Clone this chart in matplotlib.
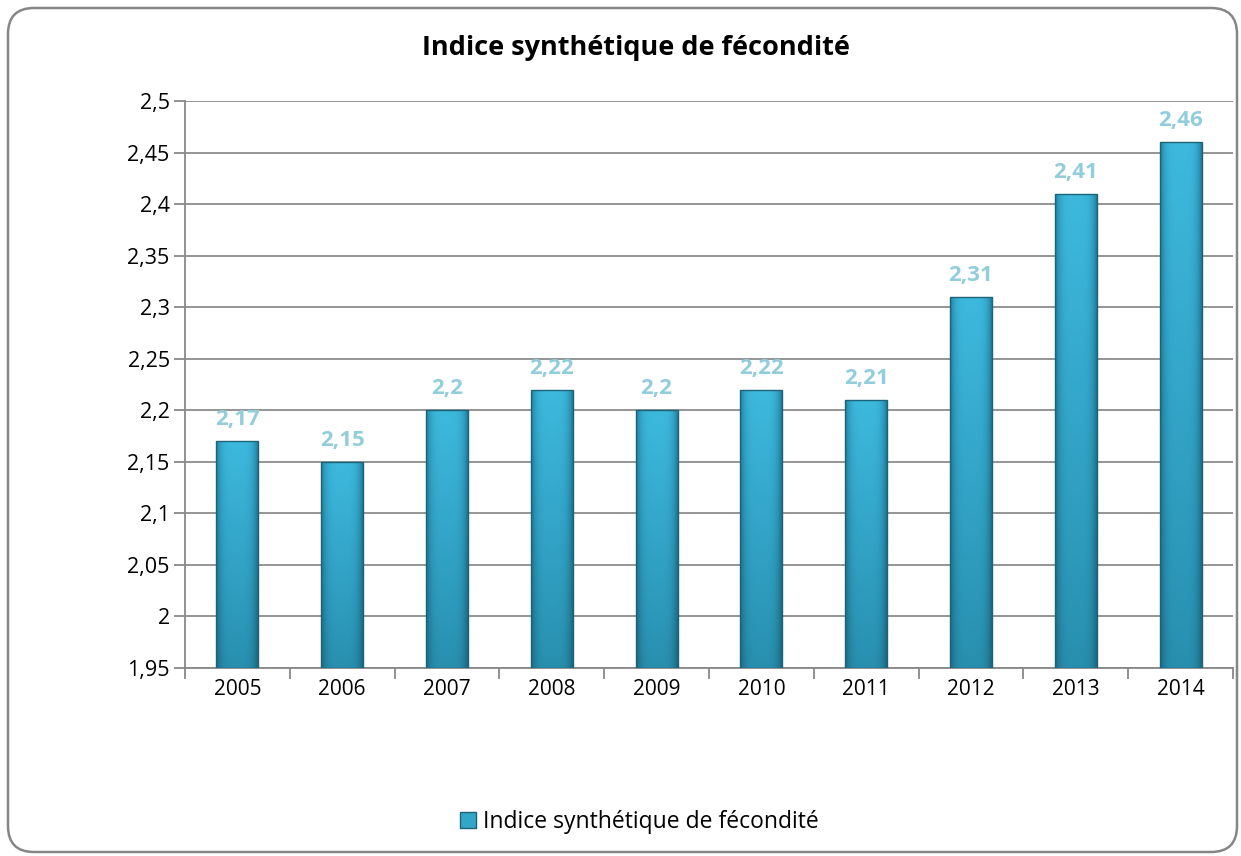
import matplotlib
matplotlib.use("Agg")
import matplotlib.pyplot as plt
import numpy as np
from matplotlib.patches import FancyBboxPatch, Patch
from matplotlib.colors import LinearSegmentedColormap

years = ["2005", "2006", "2007", "2008", "2009", "2010", "2011", "2012", "2013", "2014"]
isf = [2.17, 2.15, 2.20, 2.22, 2.20, 2.22, 2.21, 2.31, 2.41, 2.46]
value_labels = ["2,17", "2,15", "2,2", "2,22", "2,2", "2,22", "2,21", "2,31", "2,41", "2,46"]
yticks = [1.95, 2.0, 2.05, 2.1, 2.15, 2.2, 2.25, 2.3, 2.35, 2.4, 2.45, 2.5]
ytick_labels = ["1,95", "2", "2,05", "2,1", "2,15", "2,2", "2,25", "2,3", "2,35", "2,4", "2,45", "2,5"]
title = "Indice synthétique de fécondité"

plt.rcParams['font.family'] = ['Open Sans', 'DejaVu Sans']

fig = plt.figure(figsize=(12.41, 8.56), dpi=100)
ax = fig.add_axes([0.149, 0.2196, 0.8446, 0.6624])

x = np.arange(len(years))
bars = ax.bar(x, [v - 1.95 for v in isf], bottom=1.95, width=0.4,
              facecolor="none", edgecolor="#1D6378", linewidth=1.0, zorder=4)

# shaded fill for each bar (darker at the sides and the bottom)
cmap = LinearSegmentedColormap.from_list("bar", ["#1B6A82", "#2B95B6", "#3DB9DE"])
side = 1 - np.abs(np.linspace(-1, 1, 60)) ** 4 * 0.55
depth = np.linspace(0.6, 1.0, 100)[:, None]
grad = side[None, :] * depth
for b in bars:
    x0, y0 = b.get_x(), b.get_y()
    im = ax.imshow(grad, extent=[x0, x0 + b.get_width(), y0, y0 + b.get_height()],
                   origin="lower", aspect="auto", cmap=cmap, vmin=0.3, vmax=1.0,
                   zorder=3, interpolation="bilinear")
    im.set_clip_path(b)

for b, lab in zip(bars, value_labels):
    ax.annotate(lab, (b.get_x() + b.get_width() / 2, b.get_y() + b.get_height()),
                xytext=(0, 8), textcoords="offset points", ha="center", va="bottom",
                fontsize=16, fontweight="bold", color="#92CDDC")

ax.set_ylim(1.95, 2.5)
ax.set_xlim(-0.5, len(years) - 0.5)
ax.set_yticks(yticks)
ax.set_yticklabels(ytick_labels, fontsize=15.5)
ax.set_xticks(x)
ax.set_xticklabels(years, fontsize=15)
ax.set_xticks(np.arange(-0.5, len(years)), minor=True)
ax.tick_params(axis="x", which="major", length=0, pad=8)
ax.tick_params(axis="x", which="minor", length=8, width=1.3, color="#888888", direction="out")
ax.tick_params(axis="y", length=8, width=1.3, color="#888888", direction="out", pad=3)

ax.grid(axis="y", color="#8C8C8C", linewidth=1.3, zorder=0)
ax.set_axisbelow(True)
for s in ["top", "right"]:
    ax.spines[s].set_visible(False)
for s in ["left", "bottom"]:
    ax.spines[s].set_color("#888888")
    ax.spines[s].set_linewidth(1.3)

fig.text(0.5125, 0.944, title, ha="center", va="center", fontsize=19.5, fontweight="bold")

handle = Patch(facecolor="#31A6C9", edgecolor="#1D6378")
fig.legend([handle], [title], loc="center", bbox_to_anchor=(0.515, 0.04),
           frameon=False, fontsize=16.5, handlelength=0.7, handleheight=0.7,
           handletextpad=0.3)

border = FancyBboxPatch((0.08, 0.04), 12.29, 8.44,
                        boxstyle="round,pad=0,rounding_size=0.26",
                        transform=fig.dpi_scale_trans, facecolor="none",
                        edgecolor="#868686", linewidth=1.8)
fig.patches.append(border)

fig.savefig("out.png", dpi=100)
